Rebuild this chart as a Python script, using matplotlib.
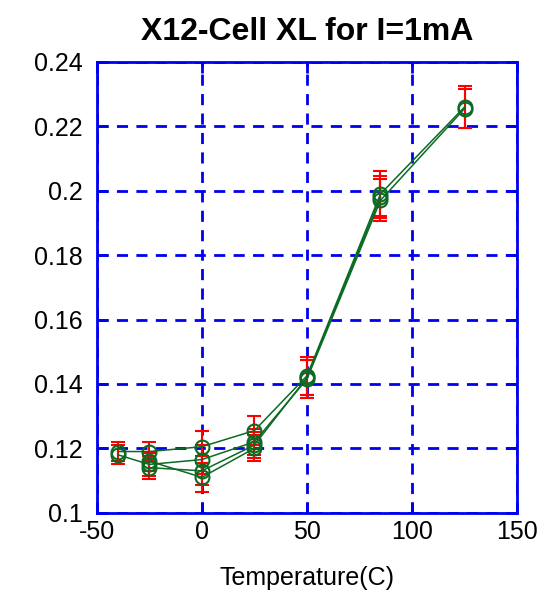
import numpy as np
import matplotlib.pyplot as plt

# ____________________________________________________________________
# DATA - temperature sweeps

temp_a = [-40, -25, 0, 25, 50, 85, 125]
val_a = [0.1190, 0.1190, 0.1205, 0.1255, 0.1425, 0.1990, 0.2260]
err_a = [0.0030, 0.0030, 0.0050, 0.0045, 0.0060, 0.0070, 0.0065]

temp_b = [-40, -25, 0, 25, 50, 85, 125]
val_b = [0.1180, 0.1150, 0.1165, 0.1220, 0.1415, 0.1970, 0.2255]
err_b = [0.0030, 0.0035, 0.0045, 0.0040, 0.0060, 0.0065, 0.0060]

temp_c = [-25, 0, 25, 50, 85]
val_c = [0.1140, 0.1130, 0.1210, 0.1420, 0.1980]
err_c = [0.0035, 0.0045, 0.0040, 0.0055, 0.0065]

temp_d = [-25, 0, 25]
val_d = [0.1160, 0.1110, 0.1200]
err_d = [0.0030, 0.0045, 0.0040]

x_ticks = [-50, 0, 50, 100, 150]
y_ticks = [0.1, 0.12, 0.14, 0.16, 0.18, 0.2, 0.22, 0.24]

# ____________________________________________________________________
# PLOT

plt.rcParams['font.family'] = ['Liberation Sans', 'DejaVu Sans']
plt.rcParams['axes.unicode_minus'] = False
fig = plt.figure(figsize=(5.53, 5.90), dpi=100)
ax = fig.add_axes([0.175, 0.131, 0.76, 0.764])

green = '#0b6a23'
for t, v, e in [(temp_a, val_a, err_a), (temp_b, val_b, err_b),
                (temp_c, val_c, err_c), (temp_d, val_d, err_d)]:
    ax.errorbar(t, v, yerr=e, fmt='none', ecolor='red', elinewidth=1.5,
                capsize=5, capthick=1.5, zorder=3)
    ax.plot(t, v, '-o', color=green, lw=1.1, markersize=10,
            markerfacecolor='none', markeredgewidth=1.5, zorder=4)

ax.set_xlim(-50, 150)
ax.set_ylim(0.1, 0.24)
ax.set_xticks(x_ticks)
ax.set_yticks(y_ticks)
ax.set_yticklabels(['%g' % v for v in y_ticks])
ax.grid(True, color='#0000ee', linestyle=(0, (4, 3)), linewidth=2)
ax.set_axisbelow(True)
for s in ax.spines.values():
    s.set_color('#0000ee')
    s.set_linewidth(2)
ax.tick_params(direction='in', colors='#0000ee', length=8, width=2,
               labelsize=18, labelcolor='black', top=True, right=True)
ax.tick_params(axis='y', pad=10)
ax.tick_params(axis='x', pad=5)
ax.set_title('X12-Cell XL for I=1mA', fontsize=23, fontweight='bold', pad=16)
ax.set_xlabel('Temperature(C)', fontsize=18, labelpad=16)

fig.savefig('out.png', dpi=100)
